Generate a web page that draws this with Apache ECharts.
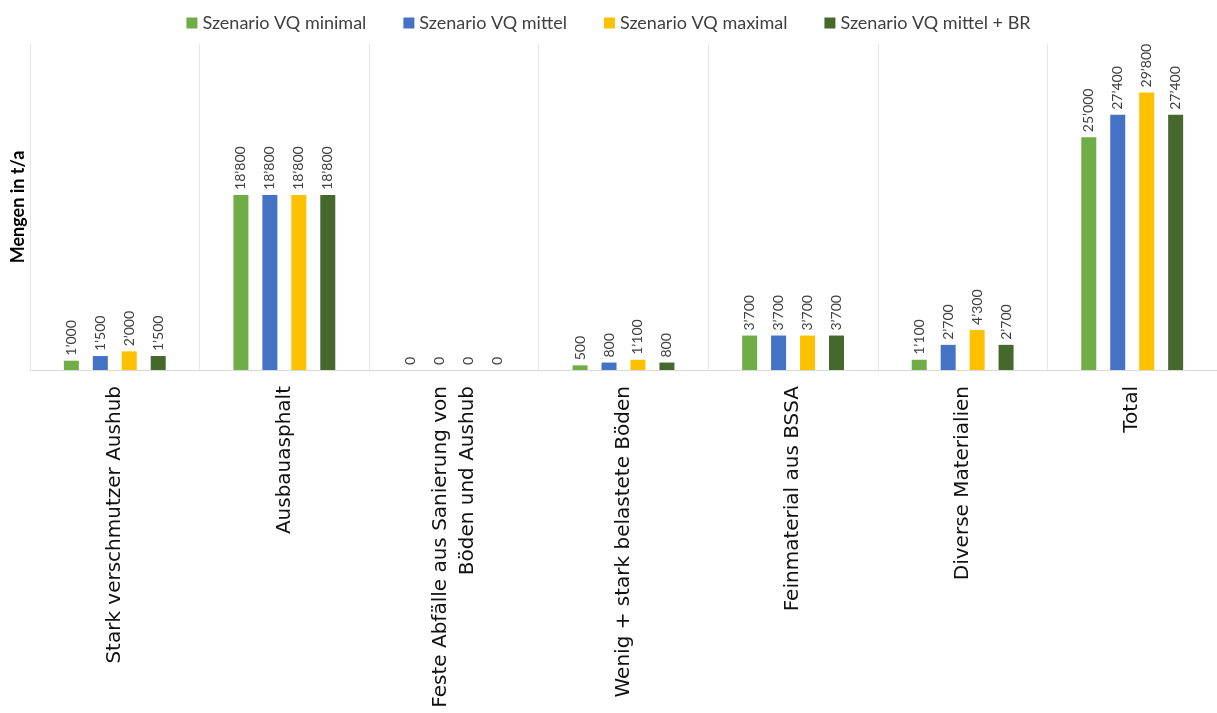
<!DOCTYPE html>
<html>
<head>
<meta charset="utf-8">
<script src="https://cdn.jsdelivr.net/npm/echarts@6/dist/echarts.min.js"></script>
<style>
  html, body { margin: 0; padding: 0; background: #fff; }
  #chart { width: 1217px; height: 713px; }
</style>
</head>
<body>
<div id="chart"></div>
<script>
// Material categories (t/a per scenario)
const categories = [
  'Stark verschmutzer Aushub',
  'Ausbauasphalt',
  'Feste Abfälle aus Sanierung von\nBöden und Aushub',
  'Wenig + stark belastete Böden',
  'Feinmaterial aus BSSA',
  'Diverse Materialien',
  'Total'
];
const seriesNames = [
  'Szenario VQ minimal',
  'Szenario VQ mittel',
  'Szenario VQ maximal',
  'Szenario VQ mittel + BR'
];
const vqMinimal = [1000, 18800, 0, 500, 3700, 1100, 25000];
const vqMittel = [1500, 18800, 0, 800, 3700, 2700, 27400];
const vqMaximal = [2000, 18800, 0, 1100, 3700, 4300, 29800];
const vqMittelBR = [1500, 18800, 0, 800, 3700, 2700, 27400];
const colors = ['#70AD47', '#4472C4', '#FFC000', '#45682D'];

// Swiss-style thousands separator
function fmt(v) {
  return String(v).replace(/\B(?=(\d{3})+(?!\d))/g, '\u2019');
}

const seriesData = [vqMinimal, vqMittel, vqMaximal, vqMittelBR];

const chart = echarts.init(document.getElementById('chart'));
chart.setOption({
  animation: false,
  color: colors,
  legend: {
    top: 9,
    left: 'center',
    itemWidth: 11,
    itemHeight: 11,
    itemGap: 37,
    icon: 'rect',
    textStyle: { fontFamily: 'Lato', fontSize: 18, color: '#404040' },
    data: seriesNames
  },
  grid: { left: 30, right: 0, top: 44, bottom: 343, outerBoundsMode: 'none', containLabel: false },
  xAxis: {
    type: 'category',
    data: categories,
    axisTick: { show: false },
    axisLine: { lineStyle: { color: '#d9d9d9', width: 1 } },
    splitLine: { show: true, lineStyle: { color: '#e6e6e6', width: 1 } },
    axisLabel: {
      rotate: 90,
      interval: 0,
      margin: 16,
      fontFamily: 'DejaVu Sans',
      fontSize: 20,
      color: '#111',
      align: 'right',
      lineHeight: 27
    }
  },
  yAxis: {
    type: 'value',
    min: 0,
    max: 35000,
    interval: 5000,
    name: 'Mengen in t/a',
    nameLocation: 'middle',
    nameGap: 3,
    nameRotate: 90,
    nameTextStyle: { fontFamily: 'Lato', fontSize: 18, fontWeight: 'bold', color: '#000' },
    axisLabel: { show: false },
    axisLine: { show: false },
    axisTick: { show: false },
    splitLine: { show: false }
  },
  series: seriesNames.map((name, i) => ({
    name: name,
    type: 'bar',
    data: seriesData[i],
    barWidth: 15,
    barGap: '93%',
    label: {
      show: true,
      position: 'top',
      rotate: 90,
      align: 'left',
      verticalAlign: 'middle',
      distance: 5,
      fontFamily: 'Lato',
      fontSize: 14,
      color: '#404040',
      formatter: p => fmt(p.value)
    }
  }))
});
</script>
</body>
</html>
